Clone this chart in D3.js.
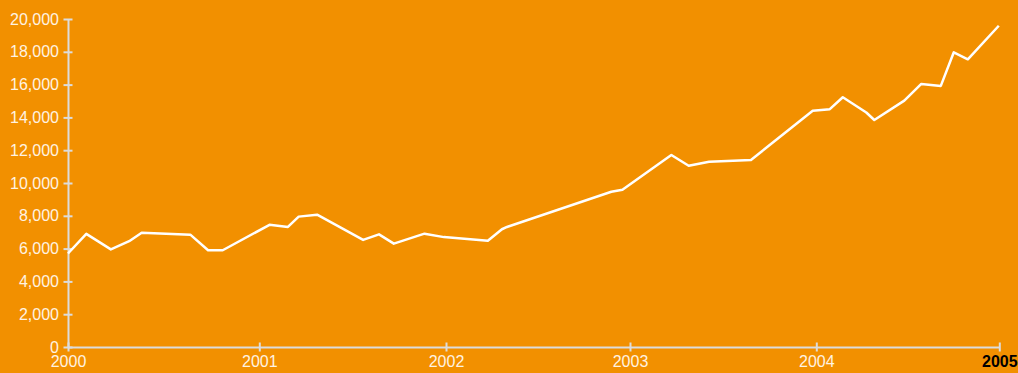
<!DOCTYPE html>
<html>
<head>
<meta charset="utf-8">
<script src="https://cdn.jsdelivr.net/npm/d3@7"></script>
<style>
  html, body { margin: 0; padding: 0; background: #f29000; }
  svg { display: block; }
  text { font-family: "Liberation Sans", Arial, sans-serif; }
</style>
</head>
<body>
<svg id="chart" width="1018" height="373"></svg>
<script>
// Observation dates and values
const dates = [
  "2000-01-01","2000-02-05","2000-03-23","2000-04-27","2000-05-21","2000-08-22",
  "2000-09-25","2000-10-23","2001-01-21","2001-02-26","2001-03-19","2001-04-24",
  "2001-07-23","2001-08-23","2001-09-21","2001-11-20","2001-12-28","2002-03-25",
  "2002-04-22","2002-05-02","2002-11-25","2002-12-17","2003-03-23","2003-04-26",
  "2003-06-05","2003-08-26","2003-12-25","2004-01-28","2004-02-23","2004-04-10",
  "2004-04-26","2004-06-25","2004-07-29","2004-09-06","2004-10-02","2004-10-30",
  "2004-12-31"
];
const values = [
  5700, 6900, 5950, 6450, 6970, 6850,
  5900, 5900, 7450, 7320, 7950, 8070,
  6530, 6870, 6300, 6910, 6700, 6480,
  7180, 7320, 9470, 9590, 11710, 11050,
  11300, 11400, 14410, 14500, 15230, 14300,
  13840, 15020, 16040, 15920, 17970, 17540,
  19590
];
const yearTicks = ["2000", "2001", "2002", "2003", "2004", "2005"];
const yTicks = [0, 2000, 4000, 6000, 8000, 10000, 12000, 14000, 16000, 18000, 20000];

const parse = d3.timeParse("%Y-%m-%d");
const yearParse = d3.timeParse("%Y");
const data = dates.map((d, i) => ({ date: parse(d), value: values[i] }));
const yearDates = yearTicks.map(yearParse);

const svg = d3.select("#chart");
const axisColor = "#dcdcdc";
const labelColor = "#fff3e2";

const x = d3.scaleTime()
  .domain(yearDates)
  .range([68, 259.3, 446, 630, 816.3, 999.3]);

const y = d3.scaleLinear()
  .domain([0, 20000])
  .range([347, 19]);

// Y axis
const yAxis = svg.append("g")
  .attr("transform", `translate(${x.range()[0]},0)`)
  .call(d3.axisLeft(y).tickValues(yTicks).tickFormat(d3.format(",")).tickSize(0).tickPadding(9));
yAxis.select(".domain").attr("stroke", axisColor).attr("stroke-width", 2);
yAxis.selectAll(".tick line")
  .attr("x1", -4.5).attr("x2", 4.5)
  .attr("stroke", axisColor).attr("stroke-width", 2);
yAxis.selectAll(".tick text")
  .attr("fill", labelColor)
  .style("font-size", "16px")
  .style("font-family", "'Liberation Sans', Arial, sans-serif");

// X axis
const xAxis = svg.append("g")
  .attr("transform", `translate(0,${y(0)})`)
  .call(d3.axisBottom(x).tickValues(yearDates).tickFormat(d3.timeFormat("%Y")).tickSize(0).tickPadding(9));
xAxis.select(".domain").attr("stroke", axisColor).attr("stroke-width", 2);
xAxis.selectAll(".tick line")
  .attr("y1", -4.5).attr("y2", 4.5)
  .attr("stroke", axisColor).attr("stroke-width", 2);
xAxis.selectAll(".tick text")
  .attr("fill", labelColor)
  .attr("dy", "0.71em")
  .style("font-size", "16px")
  .style("font-family", "'Liberation Sans', Arial, sans-serif");
xAxis.selectAll(".tick text")
  .filter((d, i, n) => i === n.length - 1)
  .attr("fill", "#000")
  .style("font-weight", "bold");

// Line
const line = d3.line()
  .x(d => x(d.date))
  .y(d => y(d.value));

svg.append("path")
  .datum(data)
  .attr("fill", "none")
  .attr("stroke", "#ffffff")
  .attr("stroke-width", 2.5)
  .attr("stroke-linejoin", "round")
  .attr("d", line);
</script>
</body>
</html>
